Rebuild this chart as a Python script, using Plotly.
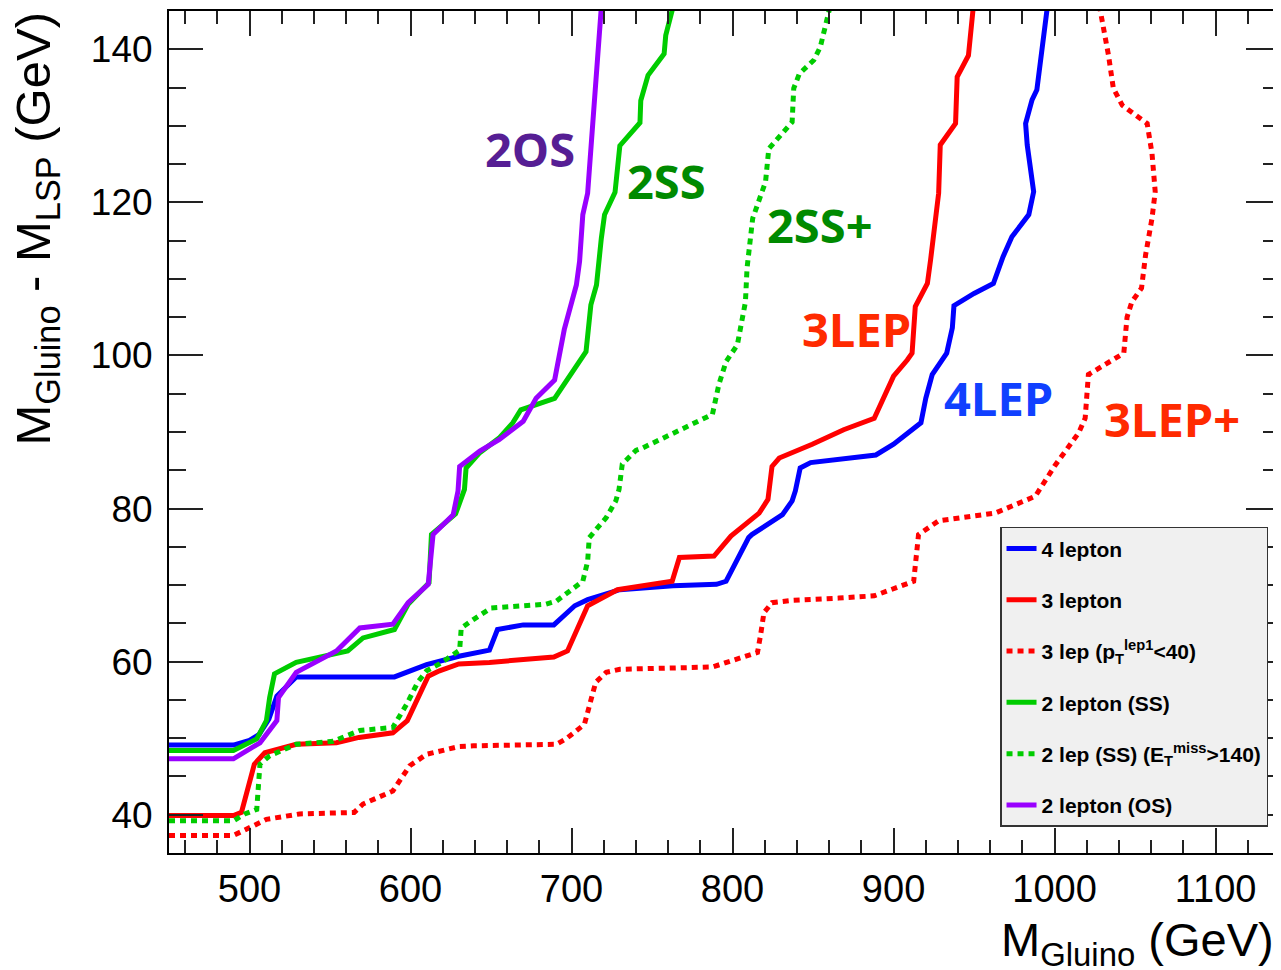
import plotly.graph_objects as go

# ---- data (M_gluino [GeV], M_gluino - M_LSP [GeV]) ----
x_4lep = [450, 490, 500, 506, 512, 517, 529, 590, 610, 618, 630, 649, 654, 670, 689, 702, 710, 730, 763, 790,
          796, 810, 812, 831, 837, 839, 842, 848.5, 889, 900, 908, 917, 920, 924, 933, 936.5, 937.5, 950, 962, 968,
          973.5, 984, 987, 983, 982, 986, 989, 992, 995.5]
y_4lep = [49.1, 49.1, 49.7, 50.5, 52.5, 55.5, 58.0, 58.0, 59.6, 60.1, 60.7, 61.5, 64.2, 64.8, 64.8, 67.3, 68.1, 69.4,
          69.9, 70.1, 70.5, 76.2, 76.6, 79.2, 81.0, 82.3, 85.3, 86.0, 87.0, 88.4, 89.7, 91.2, 94.4, 97.5, 100.3,
          103.6, 106.5, 108.1, 109.4, 112.9, 115.5, 118.4, 121.4, 127.5, 130.3, 133.4, 134.7, 139.2, 145.5]

x_3lep = [450, 490, 495, 503, 509.5, 529, 554, 568, 589, 598, 611, 618, 630, 649, 689, 697.5, 710, 728.5, 762.5, 767,
          788.5, 799, 816.5, 822, 824.5, 829, 849.5, 869, 888, 900, 908.5, 911.5, 913.5, 921, 923, 928, 929, 938.5,
          939.5, 946.5, 949.5]
y_3lep = [39.9, 39.9, 40.3, 46.6, 48.1, 49.2, 49.4, 50.1, 50.7, 52.3, 58.1, 58.8, 59.7, 59.9, 60.6, 61.4, 67.3, 69.4,
          70.5, 73.6, 73.8, 76.4, 79.4, 81.2, 85.5, 86.6, 88.4, 90.3, 91.8, 97.3, 99.4, 100.3, 106.4, 109.4, 112.5,
          121.2, 127.5, 130.3, 136.4, 139.2, 145.5]

x_3lep_pt = [450, 490, 498, 510.5, 531, 565, 570.5, 589, 599.5, 610, 630, 639, 690.5, 696.5, 708, 711, 715, 721.5,
             730, 787.5, 796, 815.5, 817.5, 819.5, 824.5, 837, 866, 888, 912.5, 913.5, 915.5, 928, 963, 988, 1000.5,
             1015, 1019, 1021, 1043, 1045, 1048, 1054, 1056.5, 1060.5, 1062.5, 1060.5, 1057.5, 1042, 1036.5, 1033.5,
             1028]
y_3lep_pt = [37.3, 37.3, 38.1, 39.4, 40.1, 40.3, 41.4, 43.1, 46.4, 47.9, 48.9, 49.0, 49.2, 49.9, 51.8, 54.4, 57.3,
             58.6, 59.0, 59.3, 59.9, 61.2, 63.6, 66.4, 67.7, 68.0, 68.3, 68.6, 70.5, 72.7, 76.6, 78.4, 79.4, 81.6,
             85.7, 89.9, 91.8, 97.5, 100.3, 105.0, 107.0, 108.8, 113.1, 117.9, 121.4, 126.4, 130.3, 132.7, 134.9,
             139.2, 145.5]

x_2ss = [450, 490, 504.5, 510.5, 512.5, 515.5, 529, 554, 561, 570.5, 590, 598.5, 611.5, 613, 628, 633.5, 634.5, 643,
         655, 663.5, 668.5, 689.5, 709, 712, 715.5, 718.5, 720.5, 727, 730, 742.5, 743, 747.5, 757.5, 758.5, 763]
y_2ss = [48.4, 48.4, 49.9, 52.3, 55.3, 58.4, 59.9, 61.2, 61.4, 63.1, 64.2, 67.5, 70.3, 76.6, 79.3, 82.5, 85.3, 87.3,
         89.2, 91.2, 92.9, 94.4, 100.5, 106.6, 109.2, 115.3, 118.4, 121.3, 127.4, 130.4, 133.3, 136.6, 139.4, 141.8,
         145.5]

x_2ss_met = [450, 490, 497, 504.5, 506.5, 512.5, 529, 552, 568.5, 589, 597.5, 604.5, 610, 618, 630.5, 631.5, 639, 650,
             684, 690.5, 707, 710, 711, 721.5, 727.5, 729.5, 731.5, 740, 744, 787.5, 791.5, 796, 803, 805, 808, 809,
             811.5, 812.5, 815.5, 820.5, 822.5, 830, 837, 838, 841.5, 850.5, 854.5, 860.5]
y_2ss_met = [39.2, 39.2, 40.1, 40.7, 46.6, 47.7, 49.2, 49.6, 51.0, 51.4, 54.4, 57.3, 58.8, 59.7, 61.5, 64.4, 65.5,
             67.0, 67.5, 67.9, 70.5, 73.1, 76.2, 78.8, 81.0, 82.5, 85.8, 87.6, 87.9, 92.3, 96.2, 99.2, 101.4, 104.0,
             107.0, 111.4, 116.2, 117.9, 119.7, 122.7, 127.0, 128.8, 130.5, 134.9, 136.8, 138.6, 140.3, 145.5]

x_2os = [450, 490, 506.5, 517, 518, 529, 554, 568.5, 589, 598.5, 611, 614, 626.5, 629.5, 630.5, 643, 655, 663, 670,
         678, 689.5, 695.5, 703, 705, 707, 710, 713, 715, 718.5]
y_2os = [47.3, 47.3, 49.4, 52.3, 55.3, 58.6, 61.4, 64.4, 64.9, 67.7, 70.1, 76.6, 79.2, 82.3, 85.5, 87.5, 89.0, 90.3,
         91.4, 94.4, 96.8, 103.4, 109.2, 112.3, 118.4, 121.2, 130.3, 136.2, 145.5]

series_names = ["4 lepton", "3 lepton", "3 lep (p<sub>T</sub><sup>lep1</sup>&lt;40)", "2 lepton (SS)",
                "2 lep (SS) (E<sub>T</sub><sup>miss</sup>&gt;140)", "2 lepton (OS)"]

label_text = ["2OS", "2SS", "2SS+", "3LEP", "4LEP", "3LEP+"]
label_x = [674, 759, 854, 877, 965, 1073]
label_y = [127.0, 122.8, 117.0, 103.5, 94.5, 91.7]
label_colors = ["#561e94", "#008a00", "#008a00", "#ff2a00", "#1040ff", "#ff2a00"]

# ---- figure ----
series = [
    (x_4lep, y_4lep, "#0000ff", "solid"),
    (x_3lep, y_3lep, "#ff0000", "solid"),
    (x_3lep_pt, y_3lep_pt, "#ff0000", "6px,5px"),
    (x_2ss, y_2ss, "#00cc00", "solid"),
    (x_2ss_met, y_2ss_met, "#00cc00", "6px,5px"),
    (x_2os, y_2os, "#9900ff", "solid"),
]

fig = go.Figure()
for i, ((xs, ys, col, dash), name) in enumerate(zip(series, series_names)):
    fig.add_trace(go.Scatter(x=xs, y=ys, mode="lines", name=name, legendgroup=f"g{i}",
                             line=dict(color=col, width=5, dash=dash)))

for t, lx, ly, c in zip(label_text, label_x, label_y, label_colors):
    fig.add_annotation(x=lx, y=ly, text=t, showarrow=False, xanchor="center", yanchor="middle",
                       font=dict(family="Open Sans", size=47, color=c, weight="bold"))

# axis titles
fig.add_annotation(xref="paper", yref="paper", x=1, y=0, xanchor="right", yanchor="top", yshift=-58, xshift=-4,
                   text="M<sub>Gluino</sub> (GeV)", showarrow=False,
                   font=dict(family="Liberation Sans", size=47, color="black"))
fig.add_annotation(xref="paper", yref="paper", x=0, y=1, xanchor="center", yanchor="top", xshift=-133, yshift=0,
                   text="M<sub>Gluino</sub> - M<sub>LSP</sub> (GeV)", showarrow=False, textangle=-90,
                   font=dict(family="Liberation Sans", size=49, color="black"))

fig.update_xaxes(range=[450, 1140], dtick=100, tick0=0, ticks="inside", ticklen=25, tickwidth=1.5,
                 tickcolor="#222", showline=True, linecolor="black", linewidth=2, mirror="allticks",
                 showgrid=False, zeroline=False, ticklabelstandoff=1,
                 tickfont=dict(family="Liberation Sans", size=38, color="black"),
                 minor=dict(dtick=20, ticks="inside", ticklen=13, tickwidth=1.5, tickcolor="#222", showgrid=False))
fig.update_yaxes(range=[35, 145], dtick=20, tick0=0, ticks="inside", ticklen=34, tickwidth=1.5,
                 tickcolor="#222", showline=True, linecolor="black", linewidth=2, mirror="allticks",
                 showgrid=False, zeroline=False, ticklabelstandoff=7,
                 tickfont=dict(family="Liberation Sans", size=37, color="black"),
                 minor=dict(dtick=5, ticks="inside", ticklen=17, tickwidth=1.5, tickcolor="#222", showgrid=False))

fig.update_layout(
    width=1281, height=970,
    margin=dict(l=161, r=9, t=1, b=125),
    paper_bgcolor="white", plot_bgcolor="white",
    showlegend=True,
    legend=dict(x=0.748, y=0.3874, xanchor="left", yanchor="top",
                bgcolor="#f0f0f0", bordercolor="#333333", borderwidth=1.5,
                tracegroupgap=21, itemwidth=30,
                font=dict(family="Liberation Sans", size=21, color="black", weight="bold")),
)

fig.write_html("out.html")
